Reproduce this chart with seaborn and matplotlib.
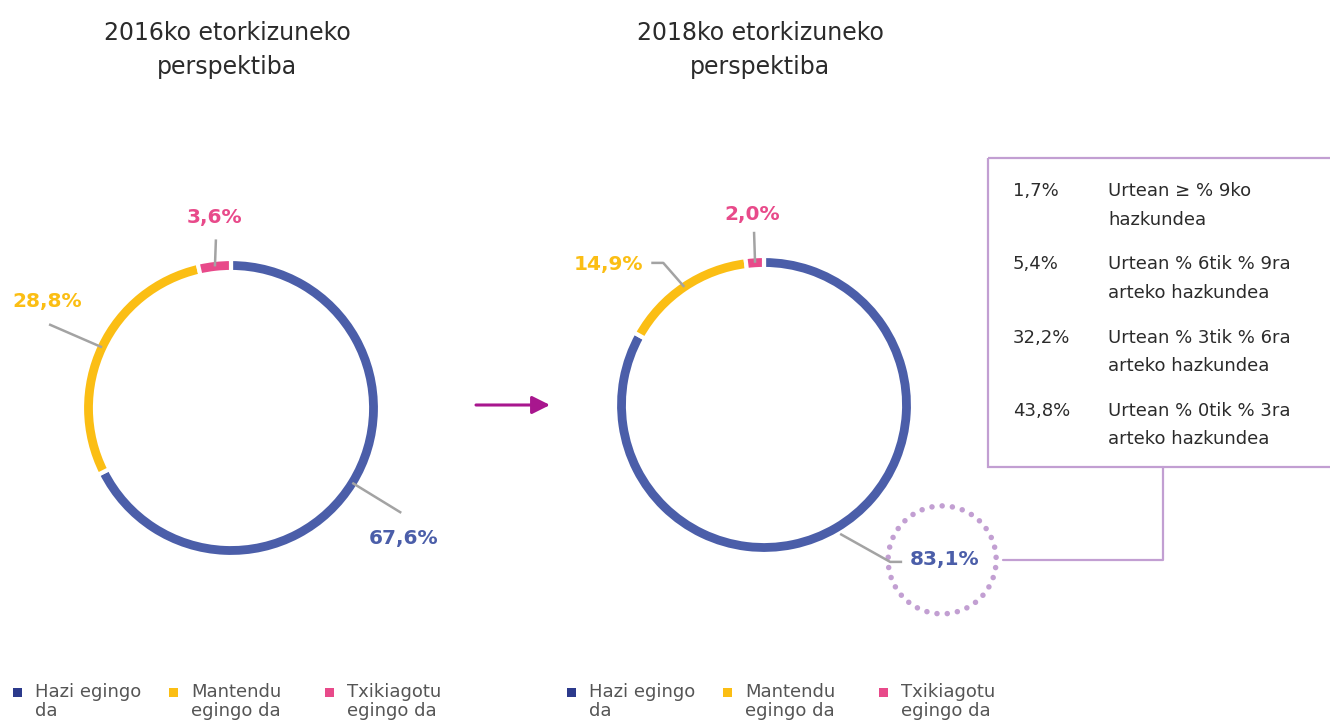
import numpy as np
import matplotlib
matplotlib.use("Agg")
import matplotlib.pyplot as plt
from matplotlib.patches import Circle, Rectangle
import seaborn as sns

# ---------------- data ----------------
titles = ["2016ko etorkizuneko\nperspektiba", "2018ko etorkizuneko\nperspektiba"]
categories = ["Hazi egingo\nda", "Mantendu\negingo da", "Txikiagotu\negingo da"]
values_2016 = [67.6, 28.8, 3.6]
values_2018 = [83.1, 14.9, 2.0]
breakdown_values = [1.7, 5.4, 32.2, 43.8]
breakdown_labels = ["Urtean \u2265 % 9ko\nhazkundea",
                    "Urtean % 6tik % 9ra\narteko hazkundea",
                    "Urtean % 3tik % 6ra\narteko hazkundea",
                    "Urtean % 0tik % 3ra\narteko hazkundea"]

# ---------------- style ----------------
sns.set_theme(style="white")
plt.rcParams["font.family"] = ["DejaVu Sans"]

ring_colors = ["#4b5ea9", "#fbbe14", "#e84a8a"]
legend_colors = ["#2c3a8c", "#fbbe14", "#e84a8a"]
grey_line = "#a3a3a3"
purple = "#c29fd2"
title_color = "#2b2b2b"
text_color = "#555555"

W, H = 1330, 725
fig = plt.figure(figsize=(W / 100, H / 100), dpi=100)
fig.patch.set_facecolor("white")

def fmt(v):
    return f"{v:.1f}".replace(".", ",") + "%"

# pie geometry (pixels)
R_PX = 149.0
RING_W = 13.0
pies = [
    dict(cx=231, cy=408, vals=values_2016,
         leaders=[([(0, 0), (49, 30)], (51, 56)),
                  ([(0, 0), (-53, -23)], (-55, -46)),
                  ([(0, 0), (1, -27)], (0, -49))]),
    dict(cx=764, cy=405, vals=values_2018,
         leaders=[([(4, 6), (54, 34), (66, 34)], (108, 32)),
                  ([(0, 0), (-21, -24), (-33, -24)], (-76, -22)),
                  ([(0, 0), (-1, -31)], (-3, -48))]),
]

# overlay axis in pixel coordinates
ov = fig.add_axes([0, 0, 1, 1], zorder=5)
ov.set_xlim(0, W)
ov.set_ylim(H, 0)
ov.axis("off")
ov.patch.set_alpha(0)

for i, p in enumerate(pies):
    ax = fig.add_axes([(p["cx"] - R_PX) / W, (H - p["cy"] - R_PX) / H,
                       2 * R_PX / W, 2 * R_PX / H], zorder=1)
    wedges, _ = ax.pie(p["vals"], colors=ring_colors, startangle=90,
                       counterclock=False, radius=1.0,
                       wedgeprops=dict(width=RING_W / R_PX, edgecolor="white",
                                       linewidth=3))
    ax.set_xlim(-1, 1)
    ax.set_ylim(-1, 1)
    ax.set_aspect("equal")
    ax.axis("off")
    ax.patch.set_alpha(0)

    # title
    ov.text(p["cx"] - 4, 50, titles[i], ha="center", va="center",
            fontsize=17, color=title_color, linespacing=1.55)

    # leader lines + labels
    r_mid = R_PX - RING_W / 2
    for w, v, col, (poly, lab) in zip(wedges, p["vals"], ring_colors, p["leaders"]):
        th = np.deg2rad((w.theta1 + w.theta2) / 2)
        rx = p["cx"] + r_mid * np.cos(th)
        ry = p["cy"] - r_mid * np.sin(th)
        xs = [rx + d[0] for d in poly]
        ys = [ry + d[1] for d in poly]
        ov.plot(xs, ys, color=grey_line, lw=1.8, solid_capstyle="butt")
        ov.text(rx + lab[0], ry + lab[1], fmt(v), ha="center", va="center",
                fontsize=14.5, fontweight="bold", color=col)
        if i == 1 and v == max(p["vals"]):
            dcx, dcy = rx + lab[0] - 2, ry + lab[1]
            circ = Circle((dcx, dcy), 54, fill=False, edgecolor=purple,
                          lw=4.0, linestyle=(0, (0.001, 1.85)))
            circ.set_capstyle("round")
            ov.add_patch(circ)
            box_bot = 467
            conn_x = 1163
            ov.plot([dcx + 61, conn_x, conn_x], [dcy, dcy, box_bot],
                    color=purple, lw=1.6)

    # legend
    lx0 = 13 if i == 0 else 567
    for k, (cat, lc) in enumerate(zip(categories, legend_colors)):
        x = lx0 + k * 156
        ov.add_patch(Rectangle((x, 688), 9, 9, color=lc, lw=0))
        ov.text(x + 22, 683, cat, ha="left", va="top", fontsize=13,
                color=text_color, linespacing=1.1)

# breakdown box
box = Rectangle((988, 158), 360, 309, fill=False, edgecolor=purple, lw=1.6)
ov.add_patch(box)
for j, (bv, bl) in enumerate(zip(breakdown_values, breakdown_labels)):
    y = 191 + j * 73.3
    ov.text(1013, y, fmt(bv), ha="left", va="center", fontsize=13,
            color=title_color)
    ov.text(1108, y - 9, bl, ha="left", va="top", fontsize=13,
            color=title_color, linespacing=1.75)

# arrow between the two charts
ov.annotate("", xy=(550, 405), xytext=(476, 405),
            arrowprops=dict(arrowstyle="-|>,head_length=0.9,head_width=0.45",
                            color="#a8168e", lw=2.2, shrinkA=0, shrinkB=0))

fig.savefig("out.png", dpi=100, facecolor="white")
